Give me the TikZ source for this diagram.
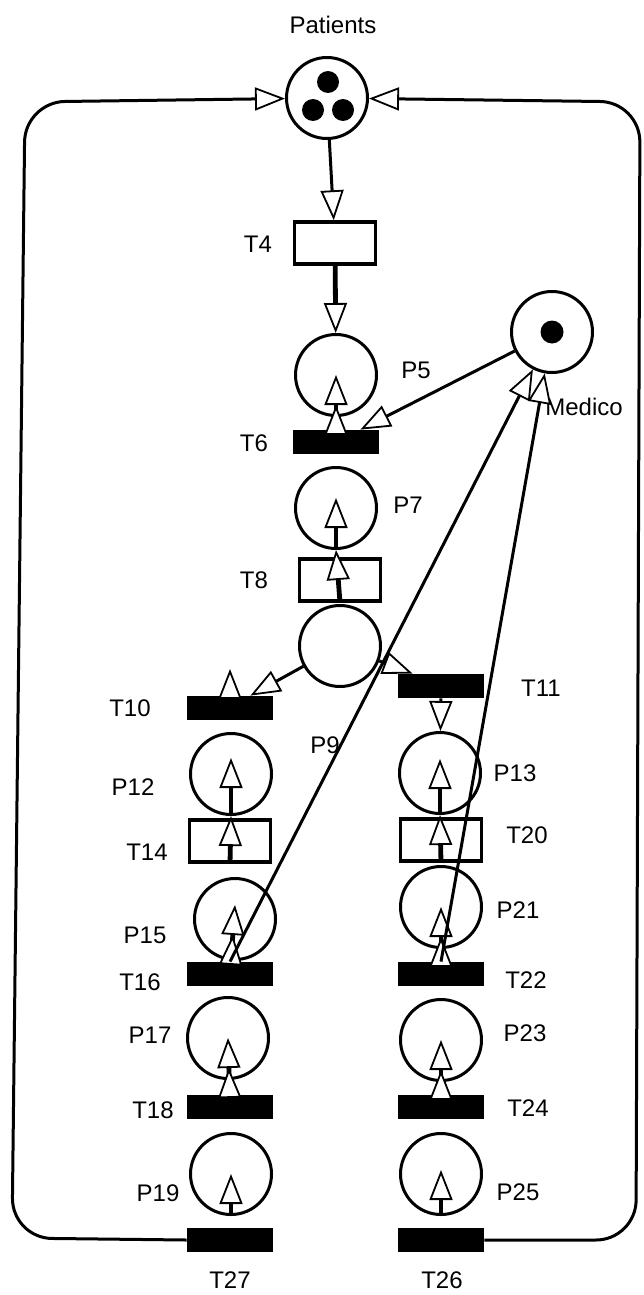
\documentclass[tikz,border=0pt]{standalone}
\usepackage{fontspec}
\setmainfont{Liberation Sans}
\usetikzlibrary{arrows.meta,positioning}
\tikzset{
    >={Triangle[fill=white, length=15pt, width=11.5pt, line width=0.9pt, sep=0pt]},
    place/.style={circle, draw, line width=1.5pt, minimum size=40.5pt, inner sep=0pt},
    trans/.style={rectangle, draw, line width=1.7pt, minimum width=40.5pt, minimum height=21pt, inner sep=0pt},
    trans black/.style={rectangle, fill=black, minimum width=43pt, minimum height=12pt, inner sep=0pt},
    tag/.style={font=\fontsize{12}{14}\selectfont, inner sep=0pt},
    flow/.style={line width=1.5pt, ->},
    feed/.style={line width=2.4pt, ->},
    twin/.style={line width=2.4pt, ->>},
    loop back/.style={line width=1.5pt, ->, rounded corners=20pt}
}

\begin{document}
\begin{tikzpicture}[x=0.5pt, y=-0.5pt]
    \useasboundingbox (0,0) rectangle (643,1295);

    % main line
    \node[place] (Patients) at (327,98) {};
    \node[trans] (T4) at (335,243) {};
    \node[place] (P5) at (336,375) {};
    \node[trans black] (T6) at (336,442) {};
    \node[place] (Medico) at (552,332) {};
    \node[place] (P7) at (336,508) {};
    \node[trans] (T8) at (340,580) {};
    \node[place] (P9) at (340,646) {};

    % left branch
    \node[trans black] (T10) at (230,708) {};
    \node[place] (P12) at (231,774) {};
    \node[trans] (T14) at (230,841) {};
    \node[place] (P15) at (235,919) {};
    \node[trans black] (T16) at (230,974) {};
    \node[place] (P17) at (228,1038) {};
    \node[trans black] (T18) at (230,1107) {};
    \node[place] (P19) at (231,1174) {};
    \node[trans black] (T27) at (230,1240) {};

    % right branch
    \node[trans black] (T11) at (441,686) {};
    \node[place] (P13) at (440,773) {};
    \node[trans] (T20) at (441,840) {};
    \node[place] (P21) at (441,907) {};
    \node[trans black] (T22) at (441,974) {};
    \node[place] (P23) at (441,1040) {};
    \node[trans black] (T24) at (441,1107) {};
    \node[place] (P25) at (441,1174) {};
    \node[trans black] (T26) at (441,1240) {};

    % tokens
    \fill (Patients) ++(1,-16) circle[radius=5.5pt];
    \fill (Patients) ++(-14,12) circle[radius=5.5pt];
    \fill (Patients) ++(16,12) circle[radius=5.5pt];
    \fill (Medico) circle[radius=5.75pt];

    % labels
    \node[tag] (lPatients) at (333,25) {Patients};
    \node[tag] (lT4) at (258,244) {T4};
    \node[tag] (lP5) at (416,370) {P5};
    \node[tag] (lMedico) at (584,407) {Medico};
    \node[tag] (lT6) at (254,443) {T6};
    \node[tag] (lP7) at (408,505) {P7};
    \node[tag] (lT8) at (254,580) {T8};
    \node[tag] (lP9) at (325,745) {P9};
    \node[tag] (lT10) at (130,708) {T10};
    \node[tag] (lT11) at (541,688) {T11};
    \node[tag] (lP12) at (133,787) {P12};
    \node[tag] (lP13) at (515,773) {P13};
    \node[tag] (lT14) at (147,852) {T14};
    \node[tag] (lT20) at (527,835) {T20};
    \node[tag] (lP15) at (145,935) {P15};
    \node[tag] (lP21) at (518,910) {P21};
    \node[tag] (lT16) at (140,982) {T16};
    \node[tag] (lT22) at (526,980) {T22};
    \node[tag] (lP17) at (150,1035) {P17};
    \node[tag] (lP23) at (525,1033) {P23};
    \node[tag] (lT18) at (153,1110) {T18};
    \node[tag] (lT24) at (528,1108) {T24};
    \node[tag] (lP19) at (158,1193) {P19};
    \node[tag] (lP25) at (518,1192) {P25};
    \node[tag] (lT27) at (230,1280) {T27};
    \node[tag] (lT26) at (442,1280) {T26};

    \coordinate (t10tip) at (230,669);

    % arcs
    \draw[flow] (Patients) -- (T4);
    \draw[feed] (T4) -- (P5);
    \draw[twin] (T6) -- (P5.center);
    \draw[flow] (Medico) -- ([xshift=-9.5pt]T6.north east);
    \draw[feed] (T8.south) -- (P7.south);
    \draw[feed] (P7.south) -- ([yshift=5pt]P7.center);
    \draw[flow] (P9) -- ([xshift=-11.5pt]T10.north east);
    \draw[flow] (P9) -- ([xshift=7.5pt]T11.north west);
    \draw[flow] (T10.north) -- (t10tip);
    \draw[flow] (T11) -- (P13);
    \draw[feed] (T14.south) -- (P12.south);
    \draw[feed] (P12.south) -- ([yshift=8pt]P12.center);
    \draw[feed] (T20.south) -- (P13.south);
    \draw[feed] (P13.south) -- ([yshift=7pt]P13.center);
    \draw[twin] (T16) -- ([yshift=7pt]P15.center);
    \draw[twin] (T18) -- (P17.center);
    \draw[twin] (T22) -- (P21.center);
    \draw[twin] (T24) -- (P23.center);
    \draw[feed] (P19.south) -- (P19.center);
    \draw[feed] (P25.south) -- ([yshift=2pt]P25.center);
    \draw[flow] (T16.north) -- (Medico);
    \draw[flow] (T22.north) -- (Medico);

    % back to the patients
    \draw[loop back] (T27.west) -- (12,1238) -- (25,102) -- (Patients);
    \draw[loop back] (T26.east) -- (636,1240) -- (640,102) -- (Patients);
\end{tikzpicture}
\end{document}
